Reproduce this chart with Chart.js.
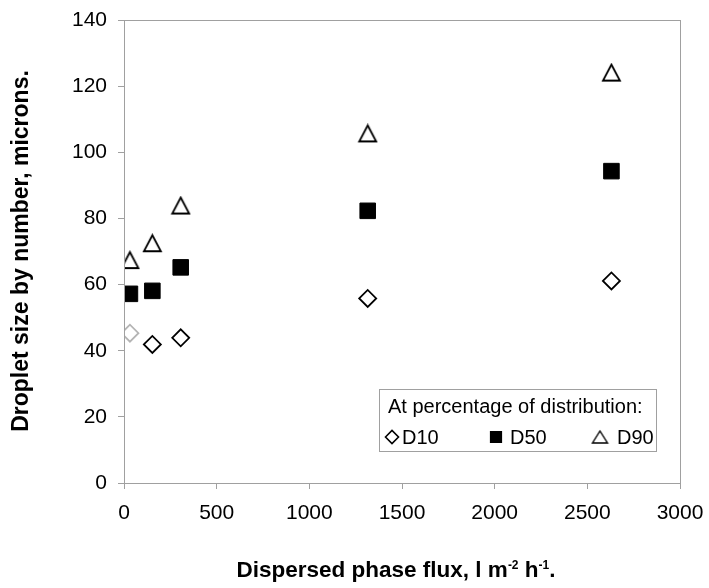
<!DOCTYPE html>
<html>
<head>
<meta charset="utf-8">
<script src="https://cdn.jsdelivr.net/npm/chart.js@4.4.1/dist/chart.umd.min.js"></script>
<style>
	html, body { margin: 0; padding: 0; background: #fff; }
	#wrap { width: 709px; height: 588px; }
</style>
</head>
<body>
<div id="wrap"><canvas id="chartFlux"></canvas></div>
<script>
// data
var flux = [32, 153, 306, 1315, 2630];
var d10 = [45.3, 41.9, 43.9, 55.8, 61.1];
var d50 = [57.2, 58.1, 65.2, 82.3, 94.3];
var d90 = [67.4, 72.5, 83.9, 105.7, 124.1];
var seriesNames = ['D10', 'D50', 'D90'];
var xTicks = [0, 500, 1000, 1500, 2000, 2500, 3000];
var yTicks = [0, 20, 40, 60, 80, 100, 120, 140];

var axisGrey = '#a0a0a0';
var fontName = '"Liberation Sans", Arial, sans-serif';

function pairs(ys) {
	return flux.map(function(x, i) { return {x: x, y: ys[i]}; });
}

// Excel-like open triangle, w x h, centred on its box
function triangleImg(w, h, lw) {
	var m = 2;
	var c = document.createElement('canvas');
	c.width = w + 2 * m;
	c.height = h + 2 * m;
	var g = c.getContext('2d');
	g.beginPath();
	g.moveTo(c.width / 2, m);
	g.lineTo(c.width - m, c.height - m);
	g.lineTo(m, c.height - m);
	g.closePath();
	g.fillStyle = '#fff';
	g.fill();
	g.lineWidth = lw;
	g.strokeStyle = '#000';
	g.stroke();
	return c;
}

var triBig = triangleImg(17, 16, 1.8);
var triSmall = triangleImg(15, 12, 1.4);

// frame, axis titles and boxed legend
var extras = {
	id: 'extras',
	afterDatasetsDraw: function(chart) {
		var ctx = chart.ctx;
		var a = chart.chartArea;
		ctx.save();
		ctx.strokeStyle = axisGrey;
		ctx.lineWidth = 1;
		ctx.strokeRect(Math.round(a.left) + 0.5, Math.round(a.top) + 0.5, Math.round(a.right - a.left), Math.round(a.bottom - a.top));

		// y title
		ctx.fillStyle = '#000';
		ctx.font = 'bold 23px ' + fontName;
		ctx.textAlign = 'center';
		ctx.textBaseline = 'middle';
		ctx.translate(22, 251);
		ctx.rotate(-Math.PI / 2);
		ctx.fillText('Droplet size by number, microns.', 0, 0);
		ctx.restore();

		// x title with superscripts
		ctx.save();
		ctx.fillStyle = '#000';
		ctx.textBaseline = 'alphabetic';
		ctx.textAlign = 'left';
		var parts = [['Dispersed phase flux, l m', false], ['-2', true], [' h', false], ['-1', true], ['.', false]];
		var big = 'bold 22.5px ' + fontName, small = 'bold 12px ' + fontName;
		var total = 0;
		parts.forEach(function(p) { ctx.font = p[1] ? small : big; total += ctx.measureText(p[0]).width; });
		var x = 396 - total / 2, base = 577;
		parts.forEach(function(p) {
			ctx.font = p[1] ? small : big;
			ctx.fillText(p[0], x, p[1] ? base - 8 : base);
			x += ctx.measureText(p[0]).width;
		});
		ctx.restore();

		// legend box
		ctx.save();
		var lx = 379, ly = 389, lw = 277, lh = 62;
		ctx.fillStyle = '#fff';
		ctx.fillRect(lx, ly, lw, lh);
		ctx.strokeStyle = axisGrey;
		ctx.lineWidth = 1;
		ctx.strokeRect(lx + 0.5, ly + 0.5, lw, lh);
		ctx.fillStyle = '#000';
		ctx.font = '20px ' + fontName;
		ctx.textAlign = 'left';
		ctx.textBaseline = 'alphabetic';
		ctx.fillText('At percentage of distribution:', lx + 9, ly + 24);
		var markX = [392, 496, 600];
		var textX = [402, 510, 617];
		chart.data.datasets.forEach(function(ds, i) {
			var style = i === 2 ? triSmall : ds.pointStyle;
			ctx.fillStyle = i === 1 ? '#000' : '#fff';
			ctx.strokeStyle = '#000';
			ctx.lineWidth = 1.6;
			Chart.helpers.drawPoint(ctx, {pointStyle: style, radius: i === 1 ? 7.5 : 6.5, borderWidth: 1.6, rotation: 0}, markX[i], 437);
			ctx.fillStyle = '#000';
			ctx.fillText(ds.label, textX[i], 444);
		});
		ctx.restore();
	}
};

var ctx = document.getElementById('chartFlux').getContext('2d');
new Chart(ctx, {
	type: 'scatter',
	data: {
		datasets: [{
			label: seriesNames[0],
			data: pairs(d10),
			pointStyle: 'rectRot',
			pointRadius: 8.5,
			pointHoverRadius: 8.5,
			borderWidth: 1.8,
			backgroundColor: '#fff',
			borderColor: ['#b4b4b4', '#000', '#000', '#000', '#000']
		}, {
			label: seriesNames[1],
			data: pairs(d50),
			pointStyle: 'rect',
			pointRadius: 11,
			pointHoverRadius: 11,
			borderWidth: 1,
			backgroundColor: '#000',
			borderColor: '#000'
		}, {
			label: seriesNames[2],
			data: pairs(d90),
			pointStyle: triBig,
			pointRadius: 9,
			pointHoverRadius: 9,
			backgroundColor: '#fff',
			borderColor: '#000'
		}]
	},
	options: {
		animation: false,
		responsive: true,
		maintainAspectRatio: false,
		layout: {
			padding: { top: 20, right: 29, left: 0, bottom: 0 }
		},
		plugins: {
			legend: { display: false },
			tooltip: { enabled: false }
		},
		scales: {
			x: {
				type: 'linear',
				min: xTicks[0],
				max: xTicks[xTicks.length - 1],
				afterFit: function(s) {
					s.height = 105;
					s.paddingLeft = 0;
					s.paddingRight = 0;
				},
				afterBuildTicks: function(s) { s.ticks = xTicks.map(function(v) { return {value: v}; }); },
				grid: { drawOnChartArea: false, drawTicks: true, tickLength: 6, color: axisGrey },
				border: { color: axisGrey },
				ticks: {
					padding: 12,
					color: '#000',
					maxRotation: 0,
					font: { family: fontName, size: 21 },
					callback: function(v) { return String(v); }
				}
			},
			y: {
				min: yTicks[0],
				max: yTicks[yTicks.length - 1],
				afterFit: function(s) {
					s.width = 124;
					s.paddingTop = 0;
					s.paddingBottom = 0;
				},
				afterBuildTicks: function(s) { s.ticks = yTicks.map(function(v) { return {value: v}; }); },
				grid: { drawOnChartArea: false, drawTicks: true, tickLength: 6, color: axisGrey },
				border: { color: axisGrey },
				ticks: {
					padding: 11,
					color: '#000',
					font: { family: fontName, size: 21 },
					callback: function(v) { return String(v); }
				}
			}
		}
	},
	plugins: [extras]
});
</script>
</body>
</html>
